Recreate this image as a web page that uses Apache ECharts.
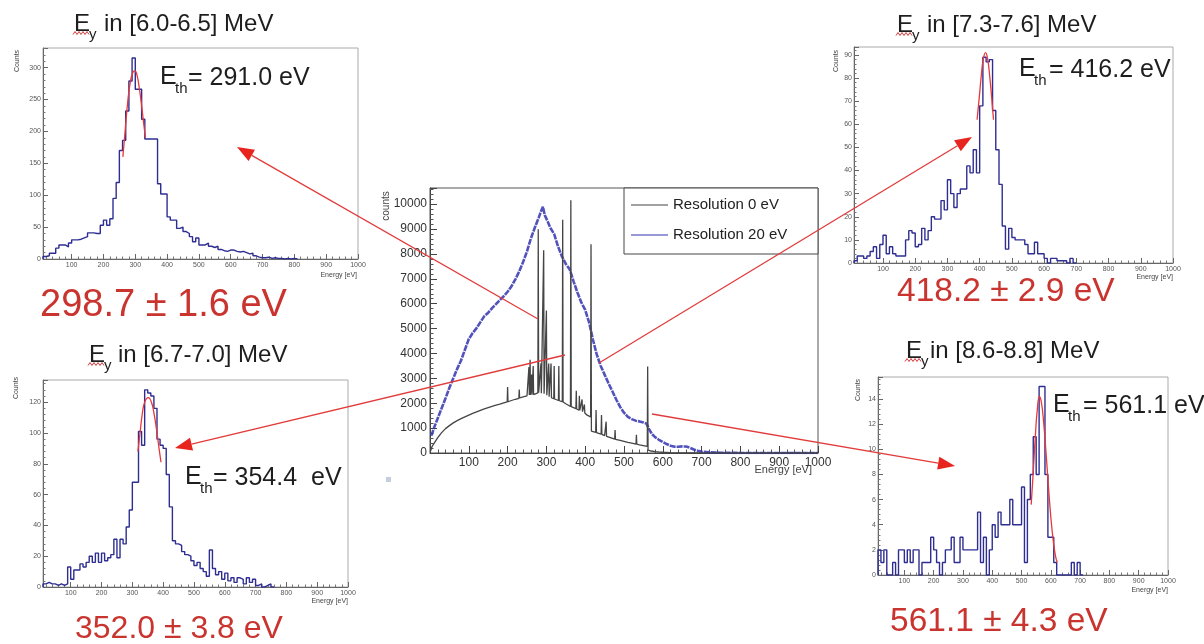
<!DOCTYPE html>
<html>
<head>
<meta charset="utf-8">
<script src="https://cdn.jsdelivr.net/npm/echarts@6/dist/echarts.min.js"></script>
<style>
  html, body { margin: 0; padding: 0; background: #fff; }
  #chart { width: 1204px; height: 644px; }
</style>
</head>
<body>
<div id="chart"></div>
<script>
// ---- gated spectra: 10 eV bins starting at 10 eV ----
const binStart = 10;
const binWidth = 10;

// E_gamma in [6.0-6.5] MeV
const countsA = [4,5,9,9,17,22,22,19,25,30, 30,31,33,35,41,41,40,40,53,61,
  53,63,95,120,170,186,232,279,315,266, 266,219,188,188,188,188,118,102,102,66,
  61,61,48,50,43,40,35,27,33,22, 22,25,20,18,20,15,13,12,14,14,
  12,11,12,10,8,9,5,3,2,2, 3,1,2,1,1,0,1,0,1,0];
// E_gamma in [6.7-7.0] MeV
const countsB = [2,3,2,2,1,2,1,2,13,5, 11,11,15,13,16,20,16,22,16,22,
  17,19,21,31,19,31,28,39,50,68, 68,101,92,128,126,124,116,96,92,90,
  73,52,30,28,27,23,21,20,17,14, 16,12,10,7,24,12,8,10,5,9,
  4,6,3,6,5,2,6,3,5,1, 2,0,1,2,0];
// E_gamma in [7.3-7.6] MeV
const countsC = [1,3,3,2,3,5,7,2,8,12, 4,7,4,3,3,3,10,14,13,7,
  8,15,10,14,20,19,19,27,23,36, 30,24,30,32,32,42,39,49,39,68,
  89,87,88,66,49,34,16,6,15,11, 10,10,10,8,4,4,9,4,4,2,
  0,2,2,1,1,1,0,2,0];
// E_gamma in [8.6-8.8] MeV
const countsD = [2,1,2,0,0,1,0,2,2,1, 2,1,2,2,0,1,1,1,3,2,
  1,0,1,2,2,3,1,1,3,2, 2,2,2,2,5,1,3,0,2,4,
  3,5,4,4,4,6,4,4,4,7, 1,6,8,11,8,15,15,8,3,3,
  1,0,0,0,0,0,1,0,1,0];

// Gaussian fits over the peak region, [energy, counts]
const fitA = [[261,160],[268,200],[276,245],[284,276],[292,292],[298.7,295],[305,289],[312,270],[320,240],[327,210],[332,190]];
const fitB = [[318,88],[325,100],[332,112],[340,120],[352.0,123],[362,120],[370,113],[380,100],[388,88],[393,81]];
const fitC = [[392,62],[399,72],[405,81],[411,88],[418.2,91],[425,88],[431,81],[437,72],[443,62]];
const fitD = [[533,5.6],[540,8.2],[547,11],[554,13.2],[561.1,14.2],[568,13.7],[576,12],[584,9.6],[592,7],[600,4.6],[608,2.8],[616,1.5],[622,1]];

// full spectrum, ideal resolution: [energy, counts]
const res0Spectrum = [[1,60],[5,250],[10,380],[20,620],[30,820],[40,980],[50,1100],[60,1210],[70,1300],[80,1380],
  [90,1450],[100,1520],[110,1590],[120,1650],[130,1710],[140,1770],[150,1820],[160,1870],[170,1920],[180,1960],
  [190,2010],[199,2050],[200,2650],[201,2060],[210,2110],[220,2160],[229,2200],[230,2550],[231,2210],[240,2260],
  [250,2300],[254,2320],[255,3450],[256,2330],[258,3750],[259,2330],[262,3150],[263,2340],[266,3500],[267,2350],
  [270,2380],[278,2420],[279,8990],[280,2420],[285,2410],[286,3600],[287,2400],[292,2390],[293,8150],[294,2380],
  [299,2340],[300,5730],[301,2320],[305,2280],[306,3600],[307,2260],[311,2230],[312,3600],[313,2220],[319,2180],
  [320,3500],[321,2170],[331,2110],[332,3500],[333,2100],[341,2060],[342,9370],[343,2050],[350,1980],[362,1870],
  [363,10160],[364,1860],[370,1820],[376,1780],[377,2500],[378,1770],[384,1720],[385,2300],[386,1710],[391,1670],
  [392,2150],[393,1660],[397,1620],[398,1950],[399,1610],[405,1520],[414,1450],[415,8390],[416,880],[420,860],
  [427,830],[428,1730],[429,820],[435,790],[441,760],[442,1530],[443,750],[450,700],[453,680],[454,1260],
  [455,670],[465,620],[476,560],[477,920],[478,550],[490,510],[500,470],[510,430],[520,400],[531,360],
  [532,730],[533,355],[540,330],[550,300],[560,270],[561,3480],[562,120],[570,80],[580,55],[590,40],
  [600,30],[620,15],[650,8],[700,3],[750,0],[1000,0]];

// full spectrum, 20 eV resolution: [energy, counts]
const res20Spectrum = [[3,700],[6,800],[10,1000],[20,1400],[30,1800],[40,2200],[50,2620],[60,3000],[70,3380],[80,3720],
  [90,4150],[100,4580],[110,4820],[120,5020],[130,5260],[140,5500],[150,5640],[160,5820],[170,5980],[180,6150],
  [190,6300],[200,6480],[210,6700],[220,6980],[230,7300],[240,7680],[250,8100],[260,8620],[270,9050],[280,9450],
  [287,9750],[291,9900],[296,9550],[302,9350],[310,9050],[320,8800],[330,8300],[340,7900],[350,7600],[360,7380],
  [370,6900],[380,6450],[390,6050],[400,5750],[410,5250],[420,4550],[430,3950],[440,3500],[450,3150],[460,2800],
  [470,2480],[480,2150],[490,1850],[500,1620],[510,1450],[520,1360],[530,1300],[540,1270],[550,1230],[558,1180],
  [565,950],[572,760],[580,640],[590,530],[600,440],[610,360],[620,290],[630,255],[640,250],[650,265],
  [660,262],[670,210],[680,140],[690,90],[700,55],[720,25],[750,10],[800,3],[1000,0]];

const legendNames = ['Resolution 0 eV', 'Resolution 20 eV'];
const gateLabels = ['in [6.0-6.5] MeV', 'in [6.7-7.0] MeV', 'in [7.3-7.6] MeV', 'in [8.6-8.8] MeV'];
const thresholdLabels = ['= 291.0 eV', '= 354.4  eV', '= 416.2 eV', '= 561.1 eV'];
const measuredLabels = ['298.7 \u00b1 1.6 eV', '352.0 \u00b1 3.8 eV', '418.2 \u00b1 2.9 eV', '561.1 \u00b1 4.3 eV'];
const countMax = [330.75, 134.4, 93.45, 15.75];
const countStep = [50, 20, 10, 2];

// ---- layout ----
const FONT = '"Liberation Sans", Arial, Helvetica, sans-serif';
const BLUE = '#2e2e92';
const RED_FIT = '#e8383a';
const RED_TXT = '#c9342f';
const plain = (v) => String(v);

const grids = [
  { left: 430, top: 188, width: 388, height: 265 },  // full spectrum
  { left: 43,  top: 48,  width: 315, height: 211 },  // 6.0-6.5
  { left: 43,  top: 380, width: 305, height: 207 },  // 6.7-7.0
  { left: 854, top: 47,  width: 319, height: 216 },  // 7.3-7.6
  { left: 878, top: 377, width: 290, height: 198 }   // 8.6-8.8
];

function histData(counts) {
  const d = [[binStart, 0]];
  counts.forEach((c, i) => d.push([binStart + i * binWidth, c]));
  d.push([binStart + counts.length * binWidth, 0]);
  return d;
}

const smallX = (gi) => ({
  type: 'value', gridIndex: gi, min: 10, max: 1000, splitNumber: 10,
  axisLine: { show: true, lineStyle: { color: '#666', width: 1 } },
  axisTick: { show: true, inside: true, length: 5, lineStyle: { color: '#666' } },
  minorTick: { show: true, splitNumber: 5, length: 2.5, lineStyle: { color: '#777' } },
  splitLine: { show: false },
  axisLabel: { fontSize: 7, color: '#555', fontFamily: FONT, margin: 3, showMinLabel: false, formatter: plain }
});
const smallY = (gi, k) => ({
  type: 'value', gridIndex: gi, min: 0, max: countMax[k], interval: countStep[k],
  axisLine: { show: true, lineStyle: { color: '#666', width: 1 } },
  axisTick: { show: true, inside: true, length: 5, lineStyle: { color: '#666' } },
  minorTick: { show: true, splitNumber: 5, length: 2.5, lineStyle: { color: '#777' } },
  splitLine: { show: false },
  axisLabel: { fontSize: 7, color: '#555', fontFamily: FONT, margin: 2, showMaxLabel: false, formatter: plain }
});

const xAxes = [{
  type: 'value', gridIndex: 0, min: 0, max: 1000, interval: 100,
  axisLine: { show: true, lineStyle: { color: '#444', width: 1 } },
  axisTick: { show: true, inside: true, length: 7, lineStyle: { color: '#444' } },
  minorTick: { show: true, splitNumber: 5, length: 3.5, lineStyle: { color: '#555' } },
  splitLine: { show: false },
  axisLabel: { fontSize: 12, color: '#333', fontFamily: FONT, margin: 4, showMinLabel: false, formatter: plain }
}];
const yAxes = [{
  type: 'value', gridIndex: 0, min: 0, max: 10650, interval: 1000,
  axisLine: { show: true, lineStyle: { color: '#444', width: 1 } },
  axisTick: { show: true, inside: true, length: 7, lineStyle: { color: '#444' } },
  minorTick: { show: true, splitNumber: 5, length: 3.5, lineStyle: { color: '#555' } },
  splitLine: { show: false },
  axisLabel: { fontSize: 12, color: '#333', fontFamily: FONT, margin: 3, showMaxLabel: false, formatter: plain }
}];
for (let k = 0; k < 4; k++) { xAxes.push(smallX(k + 1)); yAxes.push(smallY(k + 1, k)); }

const series = [
  { name: legendNames[1], type: 'line', xAxisIndex: 0, yAxisIndex: 0, data: res20Spectrum,
    symbol: 'none', lineStyle: { color: '#3434b0', width: 2.6, opacity: 0.85, type: [6, 1] }, z: 2 },
  { name: legendNames[0], type: 'line', xAxisIndex: 0, yAxisIndex: 0, data: res0Spectrum,
    symbol: 'none', lineStyle: { color: '#454545', width: 1.3 }, z: 3 }
];
[countsA, countsB, countsC, countsD].forEach((c, k) => {
  series.push({ type: 'line', xAxisIndex: k + 1, yAxisIndex: k + 1, data: histData(c), step: 'end',
    symbol: 'none', lineStyle: { color: BLUE, width: 1.4 }, z: 2 });
});
[fitA, fitB, fitC, fitD].forEach((f, k) => {
  series.push({ type: 'line', xAxisIndex: k + 1, yAxisIndex: k + 1, data: f, smooth: true,
    symbol: 'none', lineStyle: { color: RED_FIT, width: 1.3 }, z: 3 });
});

// ---- annotations ----
const g = [];
function text(x, y, s, size, fill, opts) {
  g.push(Object.assign({ type: 'text', x: x, y: y, z: 50,
    style: Object.assign({ text: s, fontSize: size, fontFamily: FONT, fill: fill,
      align: 'left', verticalAlign: 'middle' }, (opts && opts.style) || {}) },
    (opts && opts.el) || {}));
}
function squiggle(x, y) {
  const pts = [];
  for (let i = 0; i <= 8; i++) pts.push([x + i * 2, y + (i % 2 ? -1.5 : 1.5)]);
  g.push({ type: 'polyline', z: 50, shape: { points: pts }, style: { stroke: '#d23a3a', lineWidth: 1, fill: null } });
}
function gateTitle(ex, ey, inX, label) {
  text(ex, ey, 'E', 24, '#1e1e1e');
  text(ex + 15, ey + 11, 'y', 15, '#1e1e1e');
  squiggle(ex - 1, ey + 9);
  text(inX, ey, label, 24, '#1e1e1e');
}
function threshold(ex, ey, valX, label) {
  text(ex, ey, 'E', 25, '#1e1e1e');
  text(ex + 15, ey + 12, 'th', 15, '#1e1e1e');
  text(valX, ey + 1, label, 25, '#1e1e1e');
}

gateTitle(74, 24, 104, gateLabels[0]);
gateTitle(89, 355, 118, gateLabels[1]);
gateTitle(897, 25, 927, gateLabels[2]);
gateTitle(906, 351, 930, gateLabels[3]);

threshold(160, 77, 188, thresholdLabels[0]);
threshold(185, 477, 213, thresholdLabels[1]);
threshold(1019, 69, 1049, thresholdLabels[2]);
threshold(1053, 405, 1083, thresholdLabels[3]);

text(40, 306, measuredLabels[0], 38, RED_TXT);
text(75, 629, measuredLabels[1], 32, RED_TXT);
text(897, 292, measuredLabels[2], 33.5, RED_TXT);
text(890, 622, measuredLabels[3], 33.5, RED_TXT);

// axis titles
const vert = (x, y, s, size) => text(x, y, s, size, '#444',
  { style: { align: 'center' }, el: { rotation: Math.PI / 2 } });
vert(17, 61, 'Counts', 7);
vert(16, 388, 'Counts', 7);
vert(836, 61, 'Counts', 7);
vert(858, 390, 'Counts', 7);
vert(386, 206, 'counts', 10);
const right = (x, y, s, size) => text(x, y, s, size, '#444', { style: { align: 'right' } });
right(357, 275, 'Energy [eV]', 7);
right(348, 601, 'Energy [eV]', 7);
right(1173, 277, 'Energy [eV]', 7);
right(1168, 590, 'Energy [eV]', 7);
right(812, 470, 'Energy [eV]', 11);

// legend of the full spectrum
g.push({ type: 'rect', z: 40, shape: { x: 624, y: 188, width: 194, height: 66 },
  style: { fill: '#fff', stroke: '#444', lineWidth: 1 } });
g.push({ type: 'line', z: 41, shape: { x1: 631, y1: 205, x2: 668, y2: 205 }, style: { stroke: '#454545', lineWidth: 1.1 } });
g.push({ type: 'line', z: 41, shape: { x1: 631, y1: 235, x2: 668, y2: 235 }, style: { stroke: '#3434b0', lineWidth: 1.2 } });
text(673, 205, legendNames[0], 15, '#222');
text(673, 235, legendNames[1], 15, '#222');

// arrows from the full spectrum to the gated spectra
function arrow(sx, sy, tx, ty) {
  const dx = tx - sx, dy = ty - sy, L = Math.hypot(dx, dy);
  const ux = dx / L, uy = dy / L, hl = 17, hw = 6.5;
  const bx = tx - ux * hl, by = ty - uy * hl;
  g.push({ type: 'line', z: 60, shape: { x1: sx, y1: sy, x2: bx, y2: by },
    style: { stroke: '#e23b3b', lineWidth: 1.3 } });
  g.push({ type: 'polygon', z: 60, shape: { points: [[tx, ty], [bx - uy * hw, by + ux * hw], [bx + uy * hw, by - ux * hw]] },
    style: { fill: '#e8241f' } });
}
arrow(538, 319, 237, 147);
arrow(565, 355, 175, 448);
arrow(599, 363, 972, 137);
arrow(652, 414, 955, 466);

g.push({ type: 'rect', z: 5, shape: { x: 386, y: 477, width: 5, height: 5 }, style: { fill: '#c3cee0' } });

const chart = echarts.init(document.getElementById('chart'), null, { renderer: 'canvas' });
chart.setOption({
  animation: false,
  backgroundColor: '#ffffff',
  grid: grids.map((r, i) => Object.assign({ show: true, borderColor: i === 0 ? '#555' : '#aaa',
    borderWidth: 1, backgroundColor: 'transparent', containLabel: false }, r)),
  xAxis: xAxes,
  yAxis: yAxes,
  series: series,
  graphic: g
});
</script>
</body>
</html>
